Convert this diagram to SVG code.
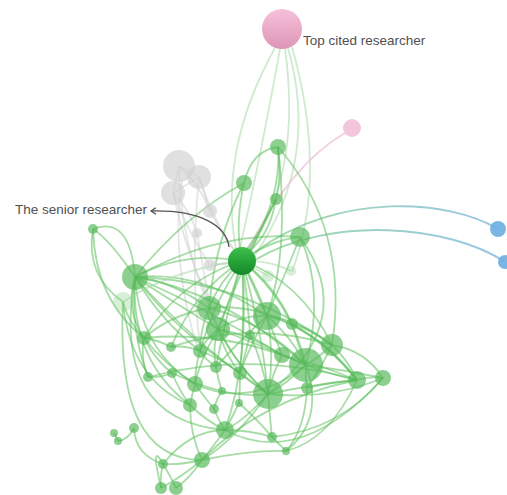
<svg xmlns="http://www.w3.org/2000/svg" width="507" height="495" viewBox="0 0 507 495">
<defs>
<style>
.e{fill:none;stroke:#5cbf5c;stroke-opacity:.55;stroke-width:1.8}
.el{fill:none;stroke:#9fd69f;stroke-opacity:.5;stroke-width:1.8}
.eg{fill:none;stroke:#d3d3d3;stroke-opacity:.6;stroke-width:1.8}
.ep{fill:none;stroke:#efc6d6;stroke-opacity:.8;stroke-width:2}
.n{fill:#55b85a;fill-opacity:.68}
.nf{fill:#8fd18f;fill-opacity:.35}
.ng{fill:#d3d3d3;fill-opacity:.7}
.nb{fill:#6aaee0;fill-opacity:.9}
.lbl{font-family:"Liberation Sans",Arial,sans-serif;font-size:13.5px;fill:#505050}
</style>
<linearGradient id="gs" x1="0" y1="0" x2="0" y2="1"><stop offset="0" stop-color="#3cc04a"/><stop offset="1" stop-color="#14882a"/></linearGradient>
<linearGradient id="gp" x1="0" y1="0" x2="0" y2="1"><stop offset="0" stop-color="#f6c0da"/><stop offset="1" stop-color="#dd96b6"/></linearGradient>
<linearGradient id="gb1" gradientUnits="userSpaceOnUse" x1="498" y1="0" x2="255" y2="0"><stop offset="0" stop-color="#6aaee0"/><stop offset="1" stop-color="#7dcc7d"/></linearGradient>
<marker id="arr" viewBox="0 0 10 10" refX="8" refY="5" markerWidth="8" markerHeight="8" markerUnits="userSpaceOnUse" orient="auto"><path d="M2,1 L8,5 L2,9" fill="none" stroke="#555" stroke-width="1.6"/></marker>
</defs>
<g id="connectors">
<path class="el" d="M275,48 Q218,150 236,250"/>
<path class="el" d="M280,49 Q262,150 240,248"/>
<path class="el" d="M285,49 Q302,170 250,250"/>
<path class="el" d="M288,48 Q320,160 255,255"/>
<path class="el" d="M292,47 Q328,175 292,272"/>
<path class="ep" d="M345,133 Q290,165 248,250"/>
<path d="M498,229 C450,200 340,190 255,252" fill="none" stroke="url(#gb1)" stroke-opacity=".7" stroke-width="2"/>
<path d="M505,262 C450,225 330,215 255,260" fill="none" stroke="url(#gb1)" stroke-opacity=".7" stroke-width="2"/>
<path class="eg" d="M179,166 L199,177"/>
<path class="eg" d="M179,166 L173,193"/>
<path class="eg" d="M199,177 L173,193"/>
<path class="eg" d="M179,166 Q200,185 210,211"/>
<path class="eg" d="M199,177 L210,211"/>
<path class="eg" d="M173,193 Q190,210 197,233"/>
<path class="eg" d="M210,211 Q225,240 238,255"/>
<path class="eg" d="M173,193 Q185,250 209,300"/>
<path class="eg" d="M199,177 Q215,225 236,252"/>
<path class="eg" d="M179,166 Q180,250 218,325"/>
<path class="eg" d="M173,193 Q192,240 210,265"/>
<path class="eg" d="M210,265 L238,262"/>
<path class="eg" d="M197,233 Q205,280 209,300"/>
<path class="eg" d="M199,177 Q190,270 200,345"/>
<path class="eg" d="M182,180 Q170,260 198,350"/>
<path class="e" d="M135,277 Q185,250 240,261"/>
<path class="e" d="M135,277 Q170,280 209,308"/>
<path class="e" d="M135,277 Q170,300 218,329"/>
<path class="e" d="M135,277 Q220,290 306,365"/>
<path class="e" d="M135,277 Q190,340 268,394"/>
<path class="e" d="M135,277 Q125,310 144,338"/>
<path class="e" d="M135,277 Q160,320 200,351"/>
<path class="e" d="M135,277 Q140,350 195,384"/>
<path class="e" d="M135,277 Q200,270 267,316"/>
<path class="e" d="M135,277 Q240,280 332,345"/>
<path class="e" d="M135,277 Q210,310 282,355"/>
<path class="e" d="M135,277 Q175,330 240,373"/>
<path class="e" d="M135,277 Q130,360 190,405"/>
<path class="e" d="M93,229 Q110,240 135,277"/>
<path class="e" d="M93,229 Q85,275 123,302"/>
<path class="e" d="M93,229 Q95,300 144,338"/>
<path class="e" d="M93,229 Q130,215 135,277"/>
<path class="e" d="M242,261 Q220,280 209,308"/>
<path class="e" d="M242,261 Q258,290 267,316"/>
<path class="e" d="M242,261 Q232,295 218,329"/>
<path class="e" d="M242,261 Q248,300 250,335"/>
<path class="e" d="M242,261 Q265,310 282,355"/>
<path class="e" d="M242,261 Q290,300 306,365"/>
<path class="e" d="M242,261 Q262,330 268,394"/>
<path class="e" d="M242,261 Q215,300 200,351"/>
<path class="e" d="M242,261 Q245,320 240,373"/>
<path class="e" d="M242,261 Q270,240 300,237"/>
<path class="e" d="M242,261 Q275,285 292,324"/>
<path class="e" d="M242,261 Q300,280 332,345"/>
<path class="e" d="M242,261 Q225,320 216,367"/>
<path class="e" d="M242,261 Q195,290 171,347"/>
<path class="e" d="M242,261 Q180,280 144,338"/>
<path class="e" d="M278,147 Q252,150 244,183"/>
<path class="e" d="M278,147 Q282,200 246,255"/>
<path class="e" d="M278,147 Q282,175 276,199"/>
<path class="e" d="M278,147 Q350,230 332,345"/>
<path class="e" d="M244,183 Q236,220 240,248"/>
<path class="e" d="M244,183 Q185,215 135,277"/>
<path class="e" d="M244,183 Q215,240 209,308"/>
<path class="e" d="M276,199 Q270,235 248,252"/>
<path class="e" d="M276,199 Q262,230 246,250"/>
<path class="e" d="M276,199 Q250,250 218,329"/>
<path class="e" d="M300,237 Q285,275 267,316"/>
<path class="e" d="M300,237 Q325,290 306,365"/>
<path class="e" d="M300,237 Q360,320 268,394"/>
<path class="e" d="M300,237 Q220,230 135,277"/>
<path class="e" d="M209,308 Q205,320 218,329"/>
<path class="e" d="M209,308 Q200,330 200,351"/>
<path class="e" d="M209,308 Q260,320 306,365"/>
<path class="e" d="M209,308 Q230,360 268,394"/>
<path class="e" d="M209,308 Q170,315 144,338"/>
<path class="e" d="M267,316 Q240,315 218,329"/>
<path class="e" d="M267,316 Q290,335 306,365"/>
<path class="e" d="M267,316 Q300,320 332,345"/>
<path class="e" d="M267,316 Q275,355 268,394"/>
<path class="e" d="M267,316 Q320,330 357,380"/>
<path class="e" d="M267,316 Q250,345 240,373"/>
<path class="e" d="M267,316 Q235,345 216,367"/>
<path class="e" d="M218,329 Q205,340 200,351"/>
<path class="e" d="M218,329 Q225,355 240,373"/>
<path class="e" d="M218,329 Q200,360 195,384"/>
<path class="e" d="M218,329 Q240,370 268,394"/>
<path class="e" d="M218,329 Q250,335 282,355"/>
<path class="e" d="M218,329 Q212,348 216,367"/>
<path class="e" d="M218,329 Q260,345 306,365"/>
<path class="e" d="M292,324 Q312,330 332,345"/>
<path class="e" d="M292,324 Q298,345 306,365"/>
<path class="e" d="M292,324 Q330,345 357,380"/>
<path class="e" d="M332,345 Q322,355 306,365"/>
<path class="e" d="M332,345 Q348,360 357,380"/>
<path class="e" d="M332,345 Q365,350 383,378"/>
<path class="e" d="M306,365 Q332,375 357,380"/>
<path class="e" d="M306,365 Q345,370 383,378"/>
<path class="e" d="M306,365 Q305,377 307,388"/>
<path class="e" d="M306,365 Q285,385 268,394"/>
<path class="e" d="M282,355 Q272,375 268,394"/>
<path class="e" d="M282,355 Q320,365 357,380"/>
<path class="e" d="M268,394 Q310,385 357,380"/>
<path class="e" d="M268,394 Q330,400 383,378"/>
<path class="e" d="M268,394 Q245,420 225,430"/>
<path class="e" d="M268,394 Q270,418 272,437"/>
<path class="e" d="M268,394 Q235,440 202,460"/>
<path class="e" d="M240,373 Q252,382 268,394"/>
<path class="e" d="M307,388 Q330,382 357,380"/>
<path class="e" d="M357,380 Q370,376 383,378"/>
<path class="e" d="M357,380 Q330,440 286,451"/>
<path class="e" d="M383,378 Q340,430 272,437"/>
<path class="e" d="M144,338 Q140,358 148,377"/>
<path class="e" d="M144,338 Q155,360 172,373"/>
<path class="e" d="M144,338 Q165,365 195,384"/>
<path class="e" d="M144,338 Q158,340 171,347"/>
<path class="e" d="M171,347 Q185,345 200,351"/>
<path class="e" d="M200,351 Q195,368 195,384"/>
<path class="e" d="M200,351 Q206,360 216,367"/>
<path class="e" d="M200,351 Q220,358 240,373"/>
<path class="e" d="M216,367 Q218,380 222,391"/>
<path class="e" d="M240,373 Q240,390 239,403"/>
<path class="e" d="M148,377 Q160,378 172,373"/>
<path class="e" d="M172,373 Q180,392 190,405"/>
<path class="e" d="M195,384 Q192,395 190,405"/>
<path class="e" d="M195,384 Q205,398 214,409"/>
<path class="e" d="M190,405 Q190,435 202,460"/>
<path class="e" d="M190,405 Q205,420 225,430"/>
<path class="e" d="M214,409 Q218,420 225,430"/>
<path class="e" d="M239,403 Q232,418 225,430"/>
<path class="e" d="M225,430 Q212,448 202,460"/>
<path class="e" d="M225,430 Q250,430 272,437"/>
<path class="e" d="M272,437 Q280,445 286,451"/>
<path class="e" d="M202,460 Q180,465 163,464"/>
<path class="e" d="M202,460 Q180,478 161,488"/>
<path class="e" d="M202,460 Q190,478 176,488"/>
<path class="e" d="M163,464 Q160,475 161,488"/>
<path class="e" d="M163,464 Q170,475 176,488"/>
<path class="e" d="M134,428 Q135,455 163,464"/>
<path class="e" d="M118,441 Q128,440 134,428"/>
<path class="e" d="M114,433 L118,441"/>
<path class="e" d="M123,302 Q115,460 202,460"/>
<path class="e" d="M135,277 Q110,420 225,430"/>
<path class="e" d="M123,302 Q130,380 190,405"/>
<path class="e" d="M286,451 Q325,420 306,365"/>
<path class="e" d="M307,388 Q305,430 286,451"/>
<path class="e" d="M332,345 Q320,370 307,388"/>
<path class="e" d="M123,302 Q128,322 144,338"/>
<path class="e" d="M135,277 Q130,330 148,377"/>
<path class="e" d="M250,335 Q245,355 240,373"/>
<path class="e" d="M250,335 Q262,360 268,394"/>
<path class="e" d="M222,391 Q216,400 214,409"/>
<path class="e" d="M239,403 Q258,420 272,437"/>
<path class="e" d="M163,464 Q190,430 225,430"/>
<path class="e" d="M242,261 Q250,360 225,430"/>
<path class="e" d="M278,147 Q290,250 267,316"/>
<path class="e" d="M163,464 Q150,440 161,488"/>
<path class="e" d="M202,460 Q250,450 286,451"/>
<path class="e" d="M202,460 Q260,400 357,380"/>
<path class="e" d="M225,430 Q300,470 383,378"/>
<path class="e" d="M195,384 Q250,410 306,365"/>
<path class="e" d="M144,338 Q230,330 306,365"/>
<path class="e" d="M171,347 Q250,320 332,345"/>
<path class="e" d="M148,377 Q250,350 357,380"/>
<path class="e" d="M172,373 Q230,400 268,394"/>
<path class="e" d="M209,308 Q290,300 357,380"/>
<path class="el" d="M268,276 L242,261"/>
<path class="el" d="M291,271 Q270,260 242,261"/>
<path class="el" d="M123,302 Q170,270 242,261"/>
</g>
<g id="arrow-senior">
<path d="M229,247 C226,225 200,210 151,211" fill="none" stroke="#555" stroke-width="1.3" marker-end="url(#arr)"/>
</g>
<g id="g0"><circle class="ng" cx="179" cy="166" r="16"/></g>
<g id="g1"><circle class="ng" cx="199" cy="177" r="12"/></g>
<g id="g2"><circle class="ng" cx="173" cy="193" r="12"/></g>
<g id="g3"><circle class="ng" cx="210" cy="211" r="7"/></g>
<g id="g4"><circle class="ng" cx="197" cy="233" r="5"/></g>
<g id="g5"><circle class="ng" cx="210" cy="265" r="6"/></g>
<g id="pink-small"><circle cx="352" cy="128" r="9" fill="#f4c6da"/></g>
<g id="blue1"><circle class="nb" cx="498" cy="229" r="8"/></g>
<g id="blue2"><circle class="nb" cx="505" cy="262" r="7"/></g>
<g id="n2"><circle class="nf" cx="123" cy="302" r="10"/></g>
<g id="n42"><circle class="nf" cx="291" cy="271" r="5"/></g>
<g id="n43"><circle class="nf" cx="268" cy="276" r="6"/></g>
<g id="n1"><circle class="n" cx="135" cy="277" r="13"/></g>
<g id="n3"><circle class="n" cx="209" cy="308" r="12"/></g>
<g id="n4"><circle class="n" cx="267" cy="316" r="14"/></g>
<g id="n5"><circle class="n" cx="218" cy="329" r="12"/></g>
<g id="n6"><circle class="n" cx="292" cy="324" r="6"/></g>
<g id="n7"><circle class="n" cx="332" cy="345" r="11"/></g>
<g id="n8"><circle class="n" cx="306" cy="365" r="17"/></g>
<g id="n9"><circle class="n" cx="282" cy="355" r="8"/></g>
<g id="n10"><circle class="n" cx="144" cy="338" r="7"/></g>
<g id="n11"><circle class="n" cx="171" cy="347" r="5"/></g>
<g id="n12"><circle class="n" cx="200" cy="351" r="7"/></g>
<g id="n13"><circle class="n" cx="250" cy="335" r="5"/></g>
<g id="n14"><circle class="n" cx="216" cy="367" r="6"/></g>
<g id="n15"><circle class="n" cx="240" cy="373" r="7"/></g>
<g id="n16"><circle class="n" cx="148" cy="377" r="5"/></g>
<g id="n17"><circle class="n" cx="172" cy="373" r="5"/></g>
<g id="n18"><circle class="n" cx="195" cy="384" r="8"/></g>
<g id="n19"><circle class="n" cx="222" cy="391" r="4"/></g>
<g id="n20"><circle class="n" cx="268" cy="394" r="15"/></g>
<g id="n21"><circle class="n" cx="307" cy="388" r="6"/></g>
<g id="n22"><circle class="n" cx="357" cy="380" r="9"/></g>
<g id="n23"><circle class="n" cx="383" cy="378" r="8"/></g>
<g id="n24"><circle class="n" cx="190" cy="405" r="7"/></g>
<g id="n25"><circle class="n" cx="214" cy="409" r="5"/></g>
<g id="n26"><circle class="n" cx="239" cy="403" r="4"/></g>
<g id="n27"><circle class="n" cx="225" cy="430" r="9"/></g>
<g id="n28"><circle class="n" cx="272" cy="437" r="5"/></g>
<g id="n29"><circle class="n" cx="286" cy="451" r="4"/></g>
<g id="n30"><circle class="n" cx="134" cy="428" r="5"/></g>
<g id="n31"><circle class="n" cx="114" cy="433" r="4"/></g>
<g id="n32"><circle class="n" cx="118" cy="441" r="4"/></g>
<g id="n33"><circle class="n" cx="202" cy="460" r="8"/></g>
<g id="n34"><circle class="n" cx="163" cy="464" r="5"/></g>
<g id="n35"><circle class="n" cx="161" cy="488" r="6"/></g>
<g id="n36"><circle class="n" cx="176" cy="488" r="7"/></g>
<g id="n37"><circle class="n" cx="278" cy="147" r="8"/></g>
<g id="n38"><circle class="n" cx="244" cy="183" r="8"/></g>
<g id="n39"><circle class="n" cx="276" cy="199" r="6"/></g>
<g id="n40"><circle class="n" cx="300" cy="237" r="10"/></g>
<g id="n41"><circle class="n" cx="93" cy="229" r="5"/></g>
<g id="senior"><circle cx="242" cy="261" r="14" fill="url(#gs)"/><text class="lbl" x="15" y="214">The senior researcher</text></g>
<g id="top-cited"><circle cx="282" cy="29" r="20" fill="url(#gp)"/><text class="lbl" x="303" y="45">Top cited researcher</text></g>
</svg>
